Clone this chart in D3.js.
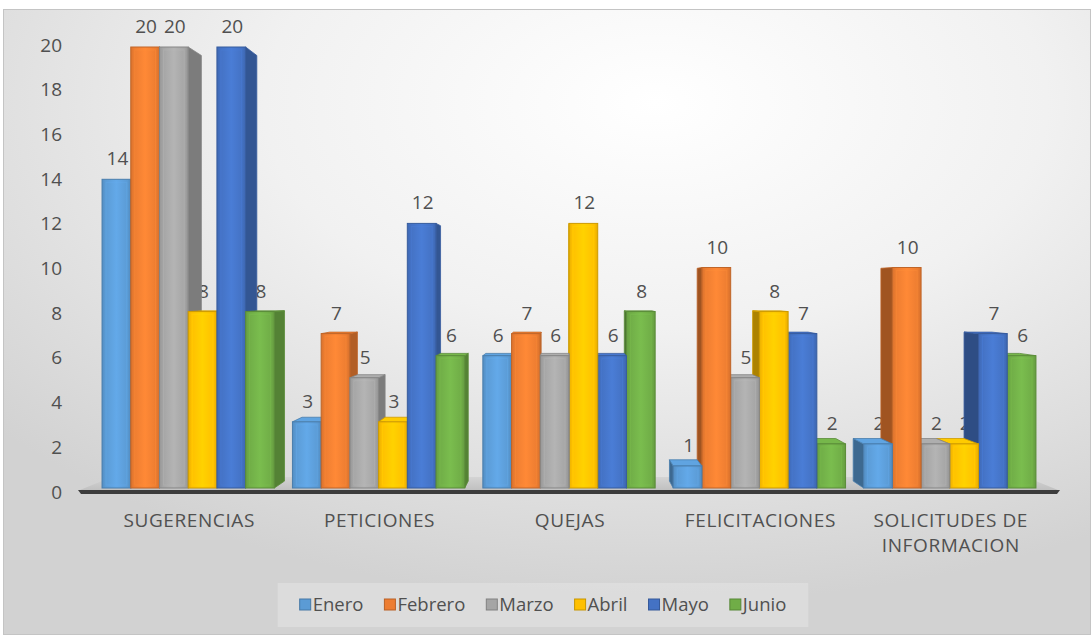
<!DOCTYPE html>
<html>
<head>
<meta charset="utf-8">
<script src="https://cdn.jsdelivr.net/npm/d3@7"></script>
<style>
  body { margin: 0; background: #ffffff; }
  text { font-family: "Open Sans", "Noto Sans", sans-serif; fill: #505050; }
</style>
</head>
<body>
<svg id="chart" width="1091" height="635"></svg>
<script>
// ---- data ----
const categories = ["SUGERENCIAS", "PETICIONES", "QUEJAS", "FELICITACIONES", "SOLICITUDES DE INFORMACION"];
const months = ["Enero", "Febrero", "Marzo", "Abril", "Mayo", "Junio"];
const enero   = [14, 3, 6, 1, 2];
const febrero = [20, 7, 7, 10, 10];
const marzo   = [20, 5, 6, 5, 2];
const abril   = [8, 3, 12, 8, 2];
const mayo    = [20, 12, 6, 7, 7];
const junio   = [8, 6, 8, 2, 6];
const yTicks  = [0, 2, 4, 6, 8, 10, 12, 14, 16, 18, 20];
const colors  = ["#5B9BD5", "#ED7D31", "#A5A5A5", "#FFC000", "#4472C4", "#70AD47"];

const seriesValues = [enero, febrero, marzo, abril, mayo, junio];

const svg = d3.select("#chart");
const W = 1091, H = 635;
const defs = svg.append("defs");

// ---- chart area background ----
const bg = defs.append("radialGradient").attr("id", "bgGrad")
  .attr("cx", "0.6").attr("cy", "0.15").attr("r", "0.8");
bg.append("stop").attr("offset", "0").attr("stop-color", "#ffffff");
bg.append("stop").attr("offset", "0.45").attr("stop-color", "#f1f1f1");
bg.append("stop").attr("offset", "1").attr("stop-color", "#d2d2d2");
svg.append("rect").attr("x", 3.5).attr("y", 9.5).attr("width", W - 4).attr("height", H - 10)
  .attr("fill", "url(#bgGrad)").attr("stroke", "#c4c4c4").attr("stroke-width", 1);

// ---- scales ----
const x = d3.scaleBand().domain(categories).range([93, 1045])
  .paddingInner(0.095).paddingOuter(0.0475);
const xSub = d3.scaleBand().domain(months).range([0, x.bandwidth()]);
const y = d3.scaleLinear().domain([0, 20]).range([488, 47]);
const yLabel = d3.scaleLinear().domain([0, 20]).range([492, 45]);
const color = d3.scaleOrdinal().domain(months).range(colors);

// perspective: faces recede toward a vanishing point
const vpX = 565, vpY = 290, depth = 0.035, floorDepth = 0.065;
const px = (v, s) => vpX + (v - vpX) * (1 - s);
const py = (v, s) => vpY + (v - vpY) * (1 - s);

// ---- floor ----
const floorFront = 490, floorL = 80, floorR = 1058;
const floorGrad = defs.append("linearGradient").attr("id", "floorGrad")
  .attr("x1", 0).attr("y1", 1).attr("x2", 0).attr("y2", 0);
floorGrad.append("stop").attr("offset", 0).attr("stop-color", "#c0c0c0");
floorGrad.append("stop").attr("offset", 1).attr("stop-color", "#d4d4d4");
svg.append("polygon")
  .attr("points", [
    [floorL, floorFront], [floorR, floorFront],
    [px(floorR, floorDepth), py(floorFront, floorDepth)],
    [px(floorL, floorDepth), py(floorFront, floorDepth)]
  ].map(p => p.join(",")).join(" "))
  .attr("fill", "url(#floorGrad)");
svg.append("polygon")
  .attr("points", [[floorL - 2, floorFront], [floorR + 2, floorFront], [floorR - 1, floorFront + 4], [floorL + 1, floorFront + 4]]
    .map(p => p.join(",")).join(" "))
  .attr("fill", "#3c3c3c");

// ---- y axis labels ----
const yAxis = d3.axisLeft(yLabel).tickValues(yTicks).tickSize(0).tickPadding(0);
const yG = svg.append("g").attr("transform", "translate(62,0)").call(yAxis);
yG.select(".domain").remove();
yG.selectAll("text").style("font-family", "\"Open Sans\", sans-serif")
  .style("font-size", "19px").style("fill", "#505050");

// ---- bar gradients ----
colors.forEach((c, i) => {
  const g = defs.append("linearGradient").attr("id", "front" + i)
    .attr("x1", 0).attr("y1", 0).attr("x2", 1).attr("y2", 0);
  const base = d3.color(c);
  g.append("stop").attr("offset", 0).attr("stop-color", base.darker(0.25));
  g.append("stop").attr("offset", 0.12).attr("stop-color", base);
  g.append("stop").attr("offset", 0.5).attr("stop-color", base.brighter(0.25));
  g.append("stop").attr("offset", 0.88).attr("stop-color", base);
  g.append("stop").attr("offset", 1).attr("stop-color", base.darker(0.3));
});

// ---- bar geometry ----
const bars = [];
categories.forEach((cat, ci) => {
  months.forEach((m, mi) => {
    const v = seriesValues[mi][ci];
    const x0 = x(cat) + xSub(m), x1 = x0 + xSub.bandwidth();
    bars.push({ cat, m, mi, v, x0, x1, yTop: y(v), yBot: y(0), cx: (x0 + x1) / 2 });
  });
});

// value labels sit beneath the bars (3D faces can overlap them)
svg.append("g").selectAll("text").data(bars).join("text")
  .attr("x", d => d.cx + 1).attr("y", d => d.yTop - 14)
  .attr("text-anchor", "middle").style("font-size", "19px")
  .text(d => d.v);

// draw bars farthest from the vanishing point first
const ordered = bars.slice().sort((a, b) => Math.abs(b.cx - vpX) - Math.abs(a.cx - vpX));
const barG = svg.append("g");
const pts = arr => arr.map(p => p.join(",")).join(" ");
ordered.forEach(d => {
  const base = d3.color(color(d.m));
  const edge = base.darker(0.6);
  const g = barG.append("g");
  const bx0 = px(d.x0, depth), bx1 = px(d.x1, depth);
  const byT = py(d.yTop, depth), byB = py(d.yBot, depth);
  if (d.cx < vpX) {
    g.append("polygon").attr("points", pts([[d.x1, d.yTop], [bx1, byT], [bx1, byB], [d.x1, d.yBot]]))
      .attr("fill", base.darker(0.8)).attr("stroke", edge).attr("stroke-width", 0.8);
  } else {
    g.append("polygon").attr("points", pts([[d.x0, d.yTop], [bx0, byT], [bx0, byB], [d.x0, d.yBot]]))
      .attr("fill", base.darker(1.1)).attr("stroke", edge).attr("stroke-width", 0.8);
  }
  if (d.yTop > vpY) {
    g.append("polygon").attr("points", pts([[d.x0, d.yTop], [d.x1, d.yTop], [bx1, byT], [bx0, byT]]))
      .attr("fill", base.brighter(0.15)).attr("stroke", edge).attr("stroke-width", 0.8);
  }
  g.append("rect").attr("x", d.x0).attr("y", d.yTop)
    .attr("width", d.x1 - d.x0).attr("height", d.yBot - d.yTop)
    .attr("fill", "url(#front" + d.mi + ")")
    .attr("stroke", edge).attr("stroke-width", 1);
  // inner bevel line
  g.append("rect").attr("x", d.x0 + 4).attr("y", d.yTop + 3)
    .attr("width", Math.max(0, d.x1 - d.x0 - 8)).attr("height", Math.max(0, d.yBot - d.yTop - 6))
    .attr("fill", "none").attr("stroke", base.brighter(0.35)).attr("stroke-opacity", 0.35).attr("stroke-width", 1);
});

// ---- category labels (wrapped to band width) ----
const catG = svg.append("g");
categories.forEach(cat => {
  const cx = x(cat) + x.bandwidth() / 2 + 1;
  const t = catG.append("text").attr("x", cx).attr("y", 527)
    .attr("text-anchor", "middle").style("font-size", "19px").style("letter-spacing", "0.6px");
  const words = cat.split(" ");
  let line = [];
  let tspan = t.append("tspan").attr("x", cx).attr("dy", 0);
  words.forEach(w => {
    line.push(w);
    tspan.text(line.join(" "));
    if (tspan.node().getComputedTextLength() > x.bandwidth() && line.length > 1) {
      line.pop();
      tspan.text(line.join(" "));
      line = [w];
      tspan = t.append("tspan").attr("x", cx).attr("dy", 25).text(w);
    }
  });
});

// ---- legend ----
const legend = svg.append("g");
const legendBox = legend.append("rect").attr("y", 583).attr("height", 44)
  .attr("fill", "#ffffff").attr("fill-opacity", 0.22);
let lx = 0;
const gap = 21;
const items = legend.append("g");
months.forEach((m, i) => {
  const it = items.append("g").attr("transform", `translate(${lx},0)`);
  it.append("rect").attr("x", 0).attr("y", 599).attr("width", 11).attr("height", 11)
    .attr("fill", color(m)).attr("stroke", d3.color(color(m)).darker(0.7)).attr("stroke-width", 1);
  const tx = it.append("text").attr("x", 13).attr("y", 611).style("font-size", "18.5px").text(m);
  lx += 13 + tx.node().getComputedTextLength() + gap;
});
const totalW = lx - gap;
const lStart = 543 - totalW / 2;
items.attr("transform", `translate(${lStart},0)`);
legendBox.attr("x", lStart - 22).attr("width", totalW + 44);
</script>
</body>
</html>
